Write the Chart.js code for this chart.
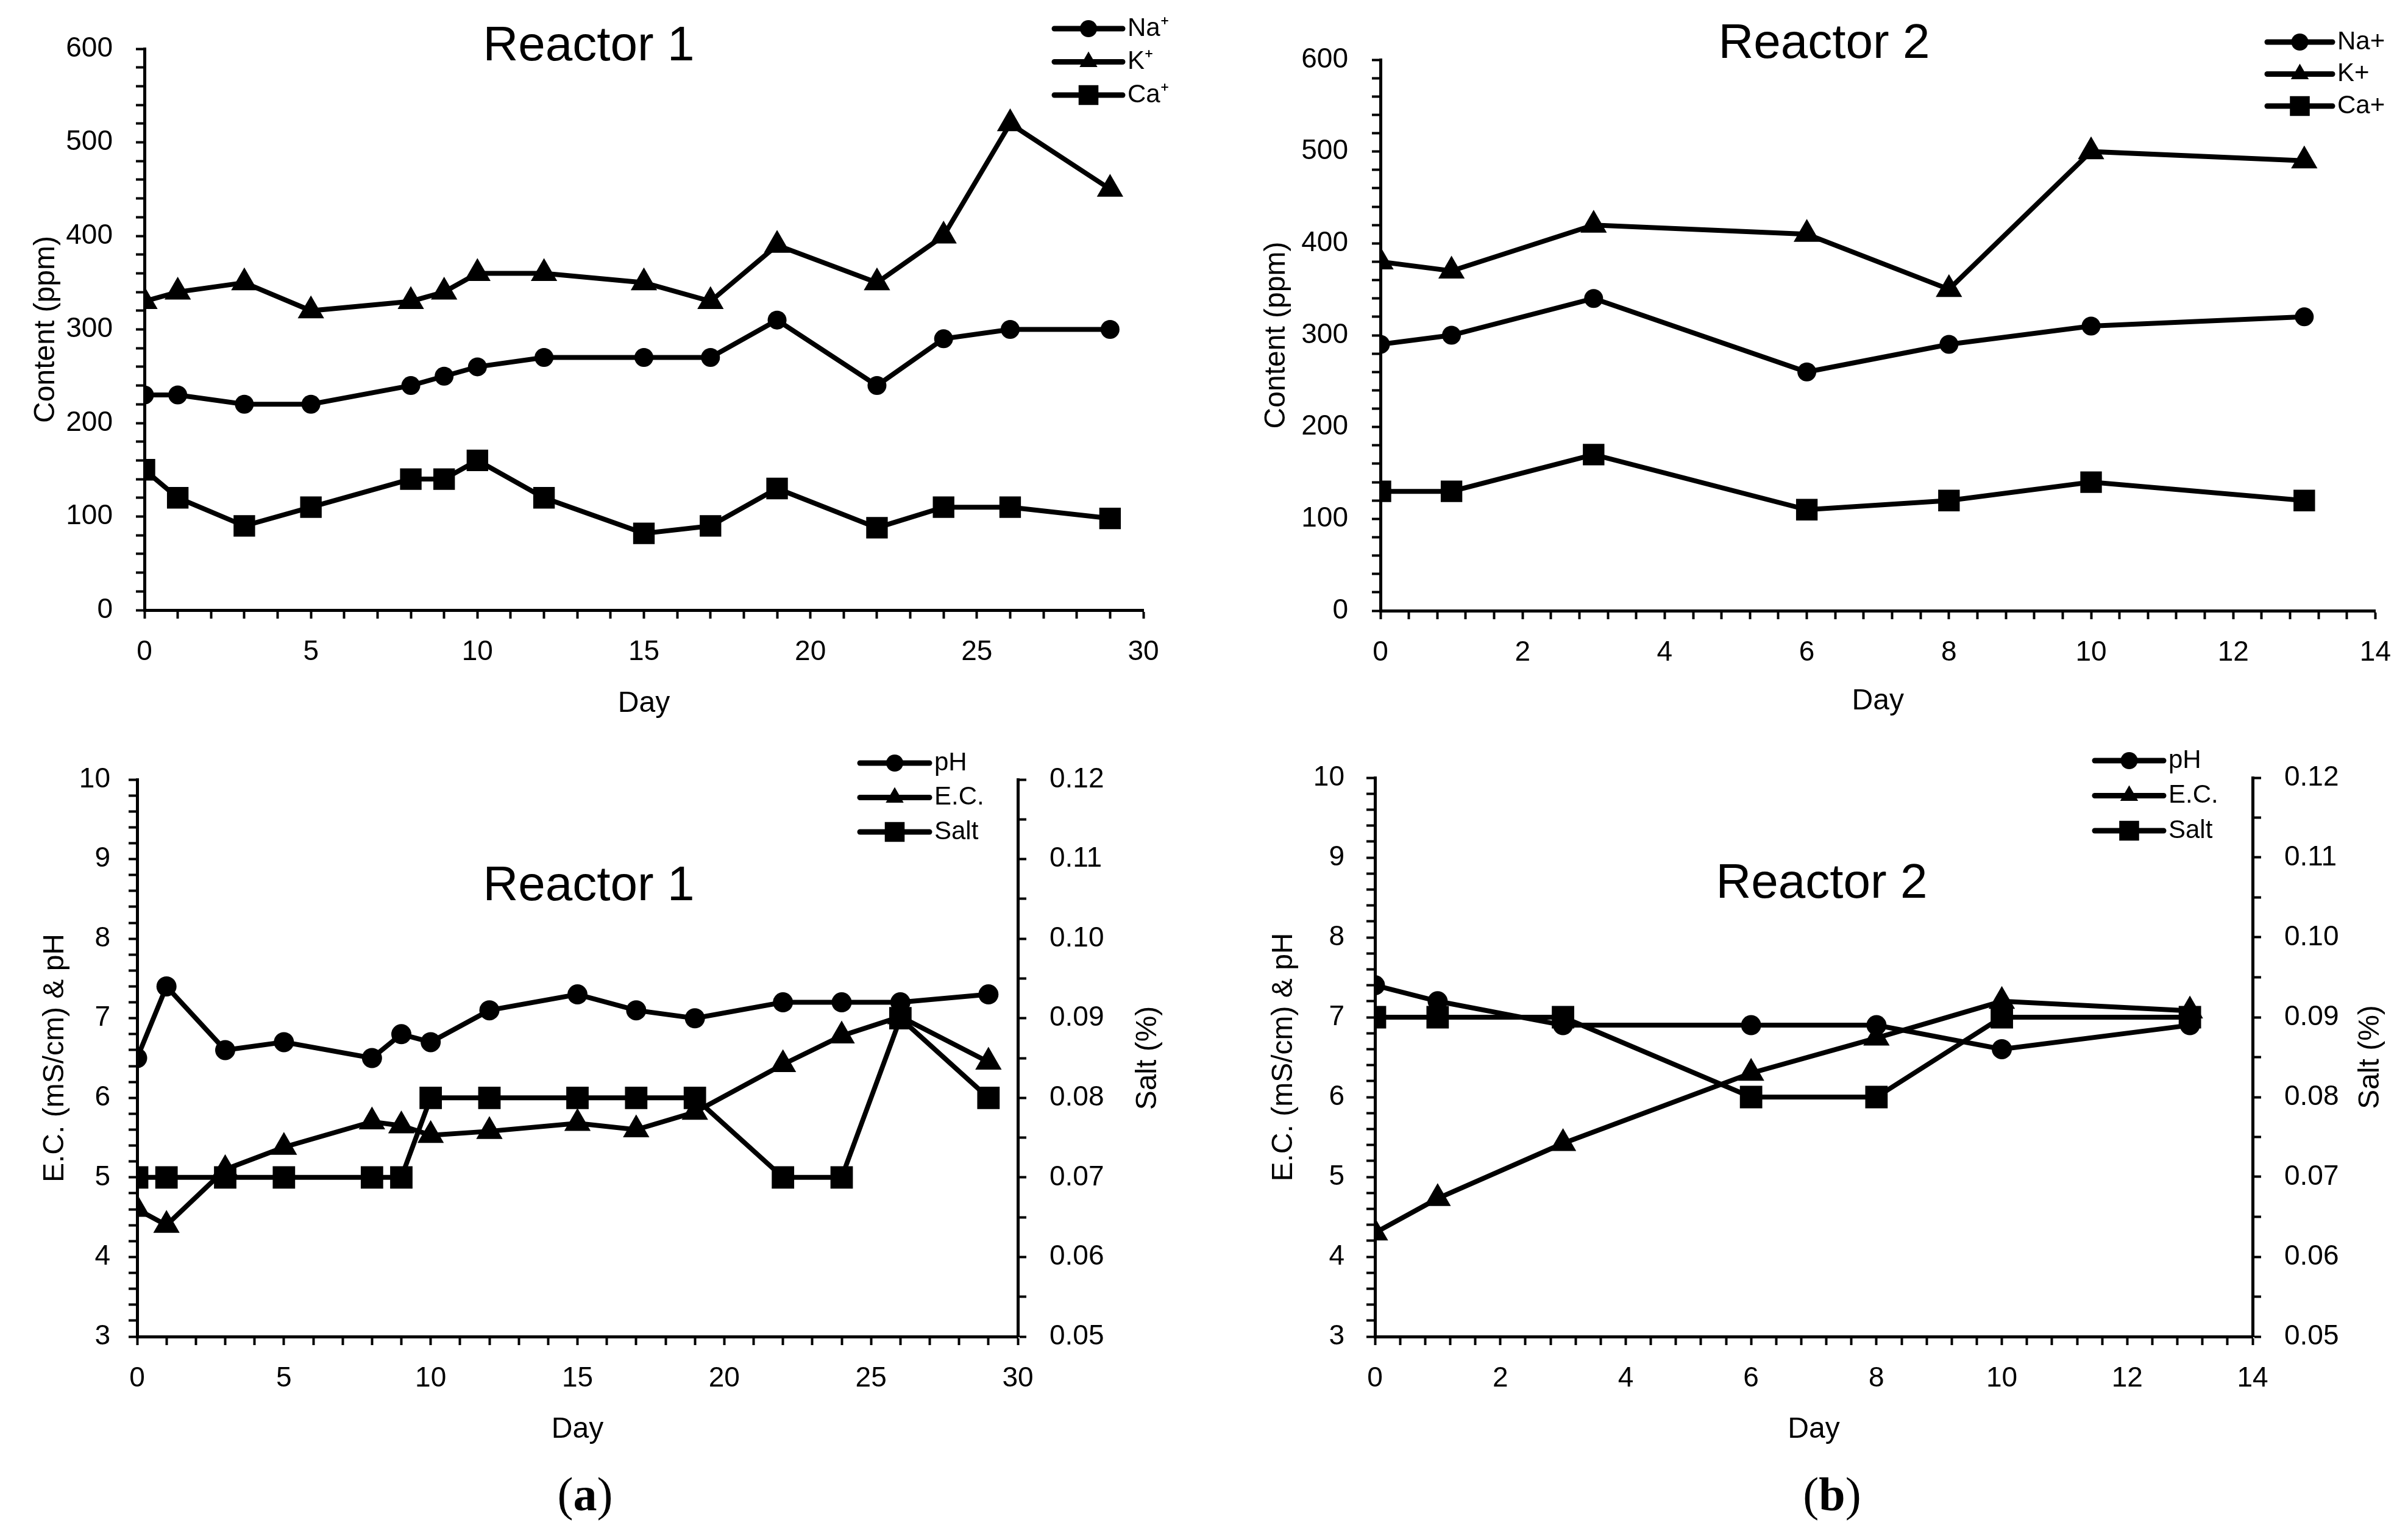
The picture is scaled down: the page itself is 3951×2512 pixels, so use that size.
<!DOCTYPE html>
<html>
<head>
<meta charset="utf-8">
<script src="https://cdn.jsdelivr.net/npm/chart.js@4.4.1/dist/chart.umd.min.js"></script>
<style>
html, body { margin: 0; padding: 0; background: #fff; }
#page { position: relative; width: 3951px; height: 2512px; background: #fff; overflow: hidden; }
.box { position: absolute; }
.cap { position: absolute; font-family: "Liberation Serif", "DejaVu Serif", serif; font-size: 78px; transform: translate(-50%, -50%); color: #000; }
</style>
</head>
<body>
<div id="page">
  <div class="box" style="left:0;top:0;width:1975px;height:1200px"><canvas id="c1"></canvas></div>
  <div class="box" style="left:1975px;top:0;width:1976px;height:1200px"><canvas id="c2"></canvas></div>
  <div class="box" style="left:0;top:1200px;width:1975px;height:1312px"><canvas id="c3"></canvas></div>
  <div class="box" style="left:1975px;top:1200px;width:1976px;height:1312px"><canvas id="c4"></canvas></div>
  <div class="cap" style="left:960px;top:2452px">(<b>a</b>)</div>
  <div class="cap" style="left:3006px;top:2452px">(<b>b</b>)</div>
</div>
<script>
// Reactor 1 sampling days and ion contents (ppm)
const days1 = [0, 1, 3, 5, 8, 9, 10, 12, 15, 17, 19, 22, 24, 26, 29];
const na1 = [230, 230, 220, 220, 240, 250, 260, 270, 270, 270, 310, 240, 290, 300, 300];
const k1 = [330, 340, 350, 320, 330, 340, 360, 360, 350, 330, 390, 350, 400, 520, 450];
const ca1 = [150, 120, 90, 110, 140, 140, 160, 120, 82, 90, 130, 88, 110, 110, 98];

// Reactor 2
const days2 = [0, 1, 3, 6, 8, 10, 13];
const na2 = [290, 300, 340, 260, 290, 310, 320];
const k2 = [380, 370, 420, 410, 350, 500, 490];
const ca2 = [130, 130, 170, 110, 120, 140, 120];

// pH, E.C. (mS/cm) and salt (%)
const ph1 = [6.5, 7.4, 6.6, 6.7, 6.5, 6.8, 6.7, 7.1, 7.3, 7.1, 7.0, 7.2, 7.2, 7.2, 7.3];
const ec1 = [4.6, 4.4, 5.1, 5.38, 5.7, 5.65, 5.53, 5.58, 5.68, 5.6, 5.82, 6.42, 6.78, 7.02, 6.45];
const salt1 = [0.07, 0.07, 0.07, 0.07, 0.07, 0.07, 0.08, 0.08, 0.08, 0.08, 0.08, 0.07, 0.07, 0.09, 0.08];
const ph2 = [7.4, 7.2, 6.9, 6.9, 6.9, 6.6, 6.9];
const ec2 = [4.3, 4.73, 5.42, 6.3, 6.74, 7.2, 7.08];
const salt2 = [0.09, 0.09, 0.09, 0.08, 0.08, 0.09, 0.09];

// axis tick labels
const contentTicks = [0, 100, 200, 300, 400, 500, 600];
const dayTicks1 = [0, 5, 10, 15, 20, 25, 30];
const dayTicks2 = [0, 2, 4, 6, 8, 10, 12, 14];
const ecTicks = [3, 4, 5, 6, 7, 8, 9, 10];
const saltTicks = [0.05, 0.06, 0.07, 0.08, 0.09, 0.10, 0.11, 0.12];

Chart.defaults.font.family = '"Liberation Sans", Arial, sans-serif';
Chart.defaults.color = '#000';

const FONT = '"Liberation Sans", Arial, sans-serif';

// majors plus unlabeled minor ticks in between
function withMinor(majors, div) {
  const out = [];
  for (let i = 0; i < majors.length - 1; i++) {
    const step = (majors[i + 1] - majors[i]) / div;
    for (let j = 0; j < div; j++) out.push({ value: majors[i] + j * step, lab: j === 0 });
  }
  out.push({ value: majors[majors.length - 1], lab: true });
  return out;
}

const gridOpts = { drawOnChartArea: false, drawTicks: true, tickLength: 14, tickWidth: 4, tickColor: '#000', color: '#000' };
const borderOpts = { display: true, color: '#000', width: 5 };

function xAxis(majors, div, h, labPad, titlePad) {
  return {
    type: 'linear', position: 'bottom',
    min: majors[0], max: majors[majors.length - 1],
    afterBuildTicks: s => { s.ticks = withMinor(majors, div); },
    afterFit: s => { s.height = h; },
    ticks: { autoSkip: false, maxRotation: 0, padding: labPad, font: { size: 46 },
      callback: (v, i, t) => t[i].lab ? String(Math.round(v)) : '' },
    grid: gridOpts, border: borderOpts,
    title: { display: true, text: 'Day', font: { size: 48 }, padding: { top: 0, bottom: titlePad } }
  };
}

function yAxis(pos, majors, div, w, labPad, fmt, title, titlePad) {
  return {
    type: 'linear', position: pos,
    min: majors[0], max: majors[majors.length - 1],
    afterBuildTicks: s => { s.ticks = withMinor(majors, div); },
    afterFit: s => { s.width = w; },
    ticks: { autoSkip: false, padding: labPad, font: { size: 46 },
      callback: (v, i, t) => t[i].lab ? fmt(v) : '' },
    grid: gridOpts, border: borderOpts,
    title: { display: !!title, text: title || '', font: { size: 48 }, padding: { top: titlePad, bottom: 0 } }
  };
}

function series(label, xs, ys, style, r, axis) {
  return {
    label: label,
    data: xs.map((x, i) => ({ x: x, y: ys[i] })),
    pointStyle: style, pointRadius: r, pointHoverRadius: r,
    borderColor: '#000', backgroundColor: '#000', pointBackgroundColor: '#000',
    borderWidth: 8, pointBorderWidth: 0, tension: 0, yAxisID: axis || 'y'
  };
}

// chart title, legend and right axis title
const deco = {
  id: 'deco',
  afterDraw(chart, args, o) {
    const ctx = chart.ctx, a = chart.chartArea;
    ctx.save();
    ctx.fillStyle = '#000';
    ctx.strokeStyle = '#000';
    ctx.textAlign = 'center';
    ctx.textBaseline = 'middle';
    ctx.font = '80px ' + FONT;
    ctx.fillText(o.title, o.titleX, o.titleY);
    if (o.rightTitle) {
      ctx.save();
      ctx.font = '48px ' + FONT;
      ctx.translate(o.rightTitleX, (a.top + a.bottom) / 2);
      ctx.rotate(-Math.PI / 2);
      ctx.fillText(o.rightTitle, 0, 0);
      ctx.restore();
    }
    ctx.font = '42px ' + FONT;
    ctx.textAlign = 'left';
    chart.data.datasets.forEach((d, i) => {
      const y = o.legY + i * o.legStep;
      ctx.lineWidth = 9;
      ctx.lineCap = 'round';
      ctx.beginPath();
      ctx.moveTo(o.legX, y);
      ctx.lineTo(o.legX + o.legLen, y);
      ctx.stroke();
      Chart.helpers.drawPoint(ctx, { pointStyle: d.pointStyle, radius: o.legR[i], borderWidth: 0, rotation: 0 }, o.legX + o.legLen / 2, y);
      ctx.fillText(d.label, o.legX + o.legLen + 8, y);
    });
    ctx.restore();
  }
};

function base(padTop, padRight, scales, decoOpts) {
  return {
    responsive: true, maintainAspectRatio: false, animation: false, devicePixelRatio: 1,
    events: [],
    layout: { padding: { top: padTop, right: padRight, left: 0, bottom: 0 } },
    scales: scales,
    plugins: { legend: { display: false }, tooltip: { enabled: false }, deco: decoOpts }
  };
}

const intFmt = v => String(Math.round(v));

new Chart(document.getElementById('c1'), {
  type: 'line',
  data: { datasets: [
    series('Na\u207A', days1, na1, 'circle', 15.5),
    series('K\u207A', days1, k1, 'triangle', 25),
    series('Ca\u207A', days1, ca1, 'rect', 25)
  ] },
  options: base(80, 99, {
    x: xAxis(dayTicks1, 5, 199, 28, 16),
    y: yAxis('left', contentTicks, 5, 237, 38, intFmt, 'Content (ppm)', 47)
  }, { title: 'Reactor 1', titleX: 966, titleY: 77, legX: 1730, legY: 47, legStep: 54.5, legLen: 112, legR: [14, 17, 23] }),
  plugins: [deco]
});

new Chart(document.getElementById('c2'), {
  type: 'line',
  data: { datasets: [
    series('Na+', days2, na2, 'circle', 15.5),
    series('K+', days2, k2, 'triangle', 25),
    series('Ca+', days2, ca2, 'rect', 25)
  ] },
  options: base(98, 51, {
    x: xAxis(dayTicks2, 5, 198, 28, 20),
    y: yAxis('left', contentTicks, 5, 290, 39, intFmt, 'Content (ppm)', 91)
  }, { title: 'Reactor 2', titleX: 1018, titleY: 73, legX: 1745, legY: 69, legStep: 52.5, legLen: 107, legR: [14, 17, 23] }),
  plugins: [deco]
});

new Chart(document.getElementById('c3'), {
  type: 'line',
  data: { datasets: [
    series('pH', days1, ph1, 'circle', 16.5),
    series('E.C.', days1, ec1, 'triangle', 25),
    series('Salt', days1, salt1, 'rect', 26, 'y1')
  ] },
  options: base(79, 0, {
    x: xAxis(dayTicks1, 5, 319, 28, 137),
    y: yAxis('left', ecTicks, 5, 225, 30, intFmt, 'E.C. (mS/cm) & pH', 62),
    y1: yAxis('right', saltTicks, 2, 305, 38, v => v.toFixed(2), '', 0)
  }, { title: 'Reactor 1', titleX: 966, titleY: 255, rightTitle: 'Salt (%)', rightTitleX: 1884,
       legX: 1411, legY: 52, legStep: 56.5, legLen: 114, legR: [14, 17, 23] }),
  plugins: [deco]
});

new Chart(document.getElementById('c4'), {
  type: 'line',
  data: { datasets: [
    series('pH', days2, ph2, 'circle', 16.5),
    series('E.C.', days2, ec2, 'triangle', 25),
    series('Salt', days2, salt2, 'rect', 26, 'y1')
  ] },
  options: base(76, 0, {
    x: xAxis(dayTicks2, 5, 319, 28, 137),
    y: yAxis('left', ecTicks, 5, 281, 36, intFmt, 'E.C. (mS/cm) & pH', 103),
    y1: yAxis('right', saltTicks, 2, 255, 38, v => v.toFixed(2), '', 0)
  }, { title: 'Reactor 2', titleX: 1014, titleY: 251, rightTitle: 'Salt (%)', rightTitleX: 1915,
       legX: 1462, legY: 48, legStep: 57.5, legLen: 113, legR: [14, 17, 23] }),
  plugins: [deco]
});
</script>
</body>
</html>
